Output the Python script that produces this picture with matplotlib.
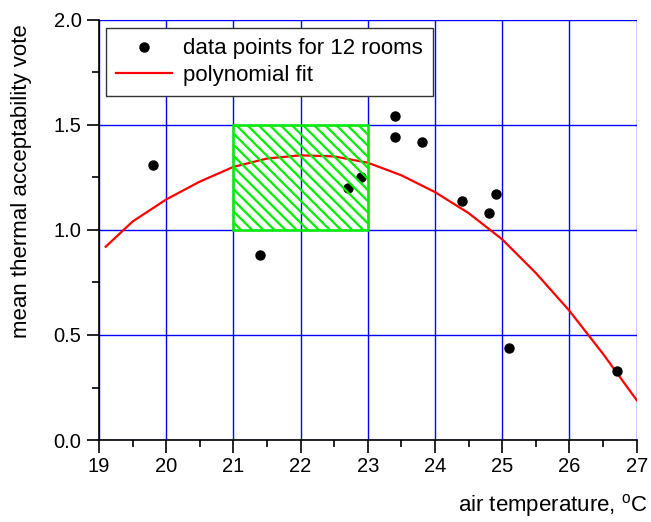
import matplotlib.pyplot as plt
from matplotlib.patches import Rectangle

plt.rcParams['font.family'] = ['Liberation Sans', 'DejaVu Sans']
plt.rcParams['hatch.color'] = '#00ee00'
plt.rcParams['hatch.linewidth'] = 1.6

# measured points (12 rooms)
temp = [19.8, 21.4, 22.7, 22.9, 23.4, 23.4, 23.8, 24.4, 24.8, 24.9, 25.1, 26.7]
vote = [1.31, 0.88, 1.20, 1.25, 1.54, 1.44, 1.42, 1.14, 1.08, 1.17, 0.44, 0.33]

# polynomial fit curve
fit_t = [19.1, 19.5, 20.0, 20.5, 21.0, 21.5, 22.0, 22.5, 23.0, 23.5,
         24.0, 24.5, 25.0, 25.5, 26.0, 26.5, 27.0]
fit_v = [0.92, 1.04, 1.145, 1.23, 1.30, 1.34, 1.355, 1.35, 1.32, 1.26,
         1.18, 1.08, 0.955, 0.795, 0.615, 0.41, 0.19]

# comfort zone
zone_t = [21, 23]
zone_v = [1.0, 1.5]

fig = plt.figure(figsize=(6.51, 5.22), dpi=100)
ax = fig.add_axes([0.152, 0.157, 0.826, 0.805])

ax.grid(True, color='#0000ff', linewidth=1.0, zorder=0)
ax.set_axisbelow(True)

ax.plot(temp, vote, 'o', color='black', markersize=6.5, zorder=3,
        label='data points for 12 rooms')
ax.plot(fit_t, fit_v, '-', color='#ff0000', linewidth=1.6, zorder=2,
        label='polynomial fit')

rect = Rectangle((zone_t[0], zone_v[0]), zone_t[1] - zone_t[0], zone_v[1] - zone_v[0],
                 fill=False, edgecolor='#00ee00', linewidth=1.8, hatch='\\\\\\', zorder=4)
ax.add_patch(rect)

ax.set_xlim(19, 27)
ax.set_ylim(0, 2.0)
ax.set_xticks(range(19, 28))
ax.set_xticks([x + 0.5 for x in range(19, 27)], minor=True)
ax.set_yticks([0, 0.5, 1.0, 1.5, 2.0])
ax.set_yticklabels(['0.0', '0.5', '1.0', '1.5', '2.0'])
ax.set_yticks([0.25, 0.75, 1.25, 1.75], minor=True)

ax.spines['top'].set_visible(False)
ax.spines['right'].set_visible(False)
ax.spines['left'].set_linewidth(1.2)
ax.spines['bottom'].set_linewidth(1.2)
ax.tick_params(which='major', direction='out', length=9, width=1.2, labelsize=14.5)
ax.tick_params(which='minor', direction='out', length=5, width=1.2)

ax.set_ylabel('mean thermal acceptability vote', fontsize=16)
ax.yaxis.set_label_coords(-0.125, 0.617)
fig.text(0.995, 0.021, r'air temperature, $^\mathregular{o}$C', fontsize=16,
         ha='right', va='baseline')

leg = ax.legend(loc='upper left', bbox_to_anchor=(0.005, 0.99), fontsize=16,
                fancybox=False, edgecolor='#333333', framealpha=1,
                handlelength=2.5, borderpad=0.45, labelspacing=0.25,
                handletextpad=0.5, borderaxespad=0.2)
leg.get_frame().set_linewidth(1.0)

fig.savefig('out.png', dpi=100)
